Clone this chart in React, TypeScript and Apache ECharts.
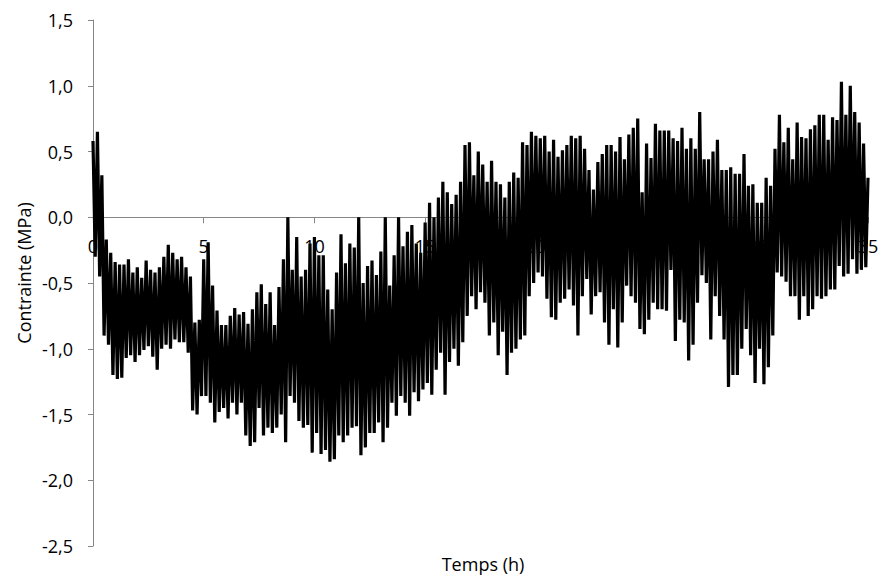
import React, { useEffect, useRef } from "react";
import * as echarts from "echarts";

// sampling step of the record (hours)
const STEP_H = 0.1;

// local maxima of the stress record, at t = 0.0, 0.2, 0.4 ... 35.0 h (MPa)
const peaks: number[] = [
  0.58, 0.65, 0.32, -0.17, -0.27,
  -0.34, -0.36, -0.36, -0.32, -0.42,
  -0.38, -0.46, -0.33, -0.4, -0.42,
  -0.38, -0.3, -0.21, -0.27, -0.32,
  -0.3, -0.38, -0.45, -0.8, -0.78,
  -0.32, -0.19, -0.52, -0.71, -0.82,
  -0.82, -0.75, -0.69, -0.74, -0.72,
  -0.81, -0.7, -0.57, -0.51, -0.66,
  -0.57, -0.82, -0.53, -0.32, 0.0,
  -0.4, -0.15, -0.45, -0.4, -0.2,
  -0.15, -0.29, -0.29, -0.55, -0.7,
  -0.42, -0.13, -0.35, -0.2, -0.23,
  0.0, -0.5, -0.37, -0.33, -0.44,
  -0.26, 0.0, -0.52, -0.29, 0.0,
  -0.22, -0.11, -0.06, -0.2, -0.27,
  -0.04, 0.11, 0.0, 0.15, 0.27,
  0.19, 0.1, 0.17, 0.27, 0.55,
  0.57, 0.32, 0.5, 0.4, 0.27,
  0.43, 0.27, 0.25, 0.15, 0.27,
  0.34, 0.3, 0.57, 0.55, 0.65,
  0.62, 0.6, 0.62, 0.5, 0.59,
  0.46, 0.51, 0.55, 0.62, 0.6,
  0.62, 0.52, 0.36, 0.21, 0.42,
  0.48, 0.55, 0.55, 0.5, 0.61,
  0.44, 0.63, 0.68, 0.75, 0.19,
  0.56, 0.45, 0.71, 0.66, 0.66,
  0.66, 0.6, 0.58, 0.68, 0.52,
  0.6, 0.52, 0.8, 0.44, 0.44,
  0.5, 0.59, 0.36, 0.36, 0.38,
  0.33, 0.33, 0.48, 0.24, 0.25,
  0.11, 0.11, 0.3, 0.24, 0.52,
  0.78, 0.57, 0.68, 0.44, 0.72,
  0.61, 0.6, 0.67, 0.7, 0.78,
  0.78, 0.59, 0.76, 0.74, 1.03,
  0.78, 1.0, 0.8, 0.72, 0.56,
  0.3,
];

// local minima of the stress record, at t = 0.1, 0.3, 0.5 ... 34.9 h (MPa)
const troughs: number[] = [
  -0.3, -0.45, -0.9, -0.97, -1.2,
  -1.23, -1.22, -1.07, -1.05, -1.1,
  -1.05, -1.01, -0.98, -1.06, -1.16,
  -1.0, -0.97, -1.0, -0.93, -0.95,
  -0.95, -1.03, -1.47, -1.5, -1.36,
  -1.36, -1.41, -1.56, -1.48, -1.45,
  -1.53, -1.41, -1.5, -1.41, -1.66,
  -1.74, -1.71, -1.45, -1.66, -1.6,
  -1.64, -1.6, -1.5, -1.71, -1.36,
  -1.41, -1.55, -1.6, -1.58, -1.79,
  -1.64, -1.8, -1.77, -1.86, -1.84,
  -1.66, -1.71, -1.66, -1.6, -1.59,
  -1.81, -1.75, -1.64, -1.64, -1.56,
  -1.71, -1.6, -1.41, -1.51, -1.36,
  -1.41, -1.51, -1.33, -1.4, -1.31,
  -1.26, -1.35, -1.16, -1.03, -1.35,
  -1.1, -1.0, -1.13, -0.95, -0.75,
  -0.6, -0.7, -0.57, -0.65, -0.9,
  -0.8, -1.05, -0.87, -1.2, -1.03,
  -1.0, -0.93, -0.9, -0.6, -0.5,
  -0.42, -0.45, -0.62, -0.76, -0.78,
  -0.65, -0.62, -0.55, -0.67, -0.9,
  -0.6, -0.47, -0.74, -0.6, -0.57,
  -0.8, -0.97, -0.7, -0.99, -0.8,
  -0.52, -0.6, -0.65, -0.85, -0.89,
  -0.78, -0.65, -0.7, -0.7, -0.71,
  -0.4, -0.94, -0.78, -0.8, -1.09,
  -0.97, -0.65, -0.44, -0.5, -0.93,
  -0.6, -0.75, -0.93, -1.29, -1.2,
  -1.2, -1.0, -0.85, -1.05, -1.26,
  -1.0, -1.27, -1.14, -0.9, -0.42,
  -0.45, -0.49, -0.6, -0.6, -0.78,
  -0.6, -0.75, -0.7, -0.6, -0.62,
  -0.6, -0.55, -0.55, -0.37, -0.45,
  -0.43, -0.32, -0.43, -0.4, -0.38,
];

const X_MIN = 0;
const X_MAX = 35;
const X_STEP = 5;
const Y_MIN = -2.5;
const Y_MAX = 1.5;
const Y_STEP = 0.5;

const X_TITLE = "Temps (h)";
const Y_TITLE = "Contrainte (MPa)";

const FONT = "'Open Sans', 'Noto Sans', sans-serif";

const W = 886;
const H = 576;
const GRID = { left: 93, right: 18, top: 20, bottom: 30 };

function buildSeries(): [number, number][] {
  const out: [number, number][] = [];
  const n = peaks.length + troughs.length;
  for (let i = 0; i < n; i++) {
    const v = i % 2 === 0 ? peaks[i / 2] : troughs[(i - 1) / 2];
    out.push([Math.round(i * STEP_H * 10) / 10, v]);
  }
  return out;
}

export default function App() {
  const ref = useRef<HTMLDivElement>(null);

  useEffect(() => {
    if (!ref.current) return;
    const chart = echarts.init(ref.current, undefined, { renderer: "svg" });
    const axisGrey = "#868686";
    // place the category axis on the zero line (Excel "crosses at 0")
    const plotH = H - GRID.top - GRID.bottom;
    const zeroY = GRID.top + ((Y_MAX - 0) / (Y_MAX - Y_MIN)) * plotH;
    const xAxisOffset = -(H - GRID.bottom - zeroY);

    chart.setOption({
      animation: false,
      backgroundColor: "#ffffff",
      grid: { ...GRID, containLabel: false },
      xAxis: {
        type: "value",
        min: X_MIN,
        max: X_MAX,
        interval: X_STEP,
        position: "bottom",
        offset: xAxisOffset,
        axisLine: { show: true, onZero: false, lineStyle: { color: axisGrey, width: 1 } },
        axisTick: { show: true, length: 6, inside: false, lineStyle: { color: axisGrey, width: 1 } },
        axisLabel: {
          margin: 20,
          fontSize: 18,
          fontFamily: FONT,
          color: "#000000",
          formatter: (v: number) => String(v),
        },
        splitLine: { show: false },
        z: 0,
      },
      yAxis: {
        type: "value",
        min: Y_MIN,
        max: Y_MAX,
        interval: Y_STEP,
        axisLine: { show: true, onZero: false, lineStyle: { color: axisGrey, width: 1 } },
        axisTick: { show: true, length: 5, inside: false, lineStyle: { color: axisGrey, width: 1 } },
        axisLabel: {
          margin: 20,
          fontSize: 18,
          fontFamily: FONT,
          color: "#000000",
          formatter: (v: number) => v.toFixed(1).replace(".", ","),
        },
        splitLine: { show: false },
      },
      graphic: [
        {
          type: "text",
          x: 483,
          y: 564,
          style: {
            text: X_TITLE,
            fontSize: 18,
            fontFamily: FONT,
            fill: "#000000",
            align: "center",
            verticalAlign: "middle",
          },
        },
        {
          type: "text",
          x: 24,
          y: 273,
          rotation: Math.PI / 2,
          style: {
            text: Y_TITLE,
            fontSize: 18,
            fontFamily: FONT,
            fill: "#000000",
            align: "center",
            verticalAlign: "middle",
          },
        },
      ],
      series: [
        {
          type: "line",
          data: buildSeries(),
          showSymbol: false,
          symbol: "none",
          clip: true,
          lineStyle: { color: "#000000", width: 3.2 },
          z: 3,
        },
      ],
    });
    return () => chart.dispose();
  }, []);

  return (
    <div
      ref={ref}
      style={{ position: "fixed", left: 0, top: 0, width: W, height: H, background: "#fff" }}
    />
  );
}
